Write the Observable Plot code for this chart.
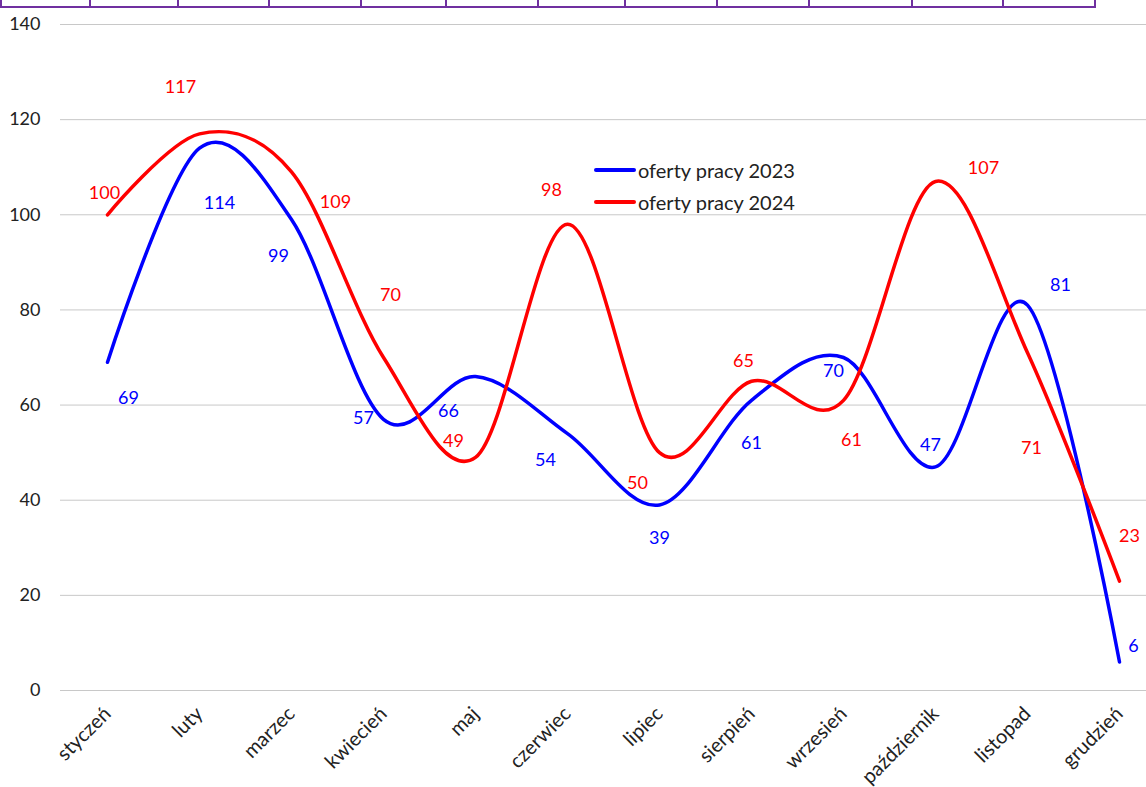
<!DOCTYPE html>
<html>
<head>
<meta charset="utf-8">
<script src="https://cdn.jsdelivr.net/npm/d3@7"></script>
<script src="https://cdn.jsdelivr.net/npm/@observablehq/plot@0.6"></script>
<style>
  html, body { margin: 0; padding: 0; background: #fff; }
  #wrap { position: relative; width: 1146px; height: 787px; overflow: hidden; font-family: Lato, "Open Sans", sans-serif; }
  #cells { position: absolute; left: 0; top: 0; height: 6px; display: flex; border-bottom: 2px solid #7030A0; border-left: 2px solid #7030A0; }
  #cells div { height: 6px; border-right: 2px solid #7030A0; box-sizing: border-box; }
  #legend { position: absolute; left: 594px; top: 154px; font-size: 20px; color: #222; }
  #legend .row { display: flex; align-items: center; height: 32px; }
  #legend .sw { width: 42px; height: 4px; border-radius: 2px; margin-right: 2px; }
</style>
</head>
<body>
<div id="wrap">
  <div id="cells"></div>
  <div id="legend"></div>
</div>
<script>
const months = ["styczeń","luty","marzec","kwiecień","maj","czerwiec","lipiec","sierpień","wrzesień","październik","listopad","grudzień"];
const offers2023 = [69,114,99,57,66,54,39,61,70,47,81,6];
const offers2024 = [100,117,109,70,49,98,50,65,61,107,71,23];
const seriesNames = ["oferty pracy 2023","oferty pracy 2024"];
const seriesColors = ["#0000FF","#FF0000"];
const yTicks = [0,20,40,60,80,100,120,140];

// manual data-label offsets (px), as placed in the source chart
const labelDx2023 = [21,20,-13,-20,-27,-22,0,0,-10,-5,33,14];
const labelDy2023 = [36,55,37,-1,35,27,33,43,14,-22,-20,-16];
const labelDx2024 = [-3,-19,44,7,-22,-16,-22,-8,8,48,4,10];
const labelDy2024 = [-22,-47,30,-62,-16,-34,31,-20,40,-13,95,-45];

// spreadsheet column borders visible at the top of the screenshot
const cellWidths = [89,88,91,92,85,92,87,92,92,103,91,92];

const cells = document.getElementById("cells");
cellWidths.forEach(w => { const d = document.createElement("div"); d.style.width = w + "px"; cells.appendChild(d); });

const legend = document.getElementById("legend");
seriesNames.forEach((n, i) => {
  const r = document.createElement("div"); r.className = "row";
  r.innerHTML = `<span class="sw" style="background:${seriesColors[i]}"></span><span>${n}</span>`;
  legend.appendChild(r);
});

const rows = [];
months.forEach((m, i) => {
  rows.push({month: m, value: offers2023[i], series: seriesNames[0], dx: labelDx2023[i], dy: labelDy2023[i]});
});
months.forEach((m, i) => {
  rows.push({month: m, value: offers2024[i], series: seriesNames[1], dx: labelDx2024[i], dy: labelDy2024[i]});
});

const labelMarks = rows.map(d => Plot.text([d], {
  x: "month", y: "value", text: d => String(d.value),
  fill: seriesColors[seriesNames.indexOf(d.series)],
  dx: d.dx, dy: d.dy, fontSize: 18
}));

const chart = Plot.plot({
  width: 1146,
  height: 787,
  marginTop: 24,
  marginBottom: 97,
  marginLeft: 60,
  marginRight: 0,
  style: { fontFamily: "Lato, 'Open Sans', sans-serif", fontSize: "18px", color: "#222", background: "transparent" },
  x: { type: "point", domain: months, range: [105, 1120], padding: 0, label: null },
  y: { domain: [0, 140], ticks: yTicks, label: null },
  color: { domain: seriesNames, range: seriesColors },
  marks: [
    Plot.gridY(yTicks, { stroke: "#c8c8c8", strokeOpacity: 1, strokeWidth: 1 }),
    Plot.axisY(yTicks, { tickSize: 0, tickPadding: 20, fontSize: 18, fill: "#222", label: null }),
    Plot.axisX({ tickSize: 0, tickPadding: 20, tickRotate: -45, fontSize: 20, fill: "#222", label: null }),
    Plot.line(rows, { x: "month", y: "value", z: "series", stroke: "series", strokeWidth: 3.5, curve: "cardinal" }),
    ...labelMarks
  ]
});
document.getElementById("wrap").appendChild(chart);
chart.style.position = "absolute";
chart.style.left = "0";
chart.style.top = "0";
</script>
</body>
</html>
